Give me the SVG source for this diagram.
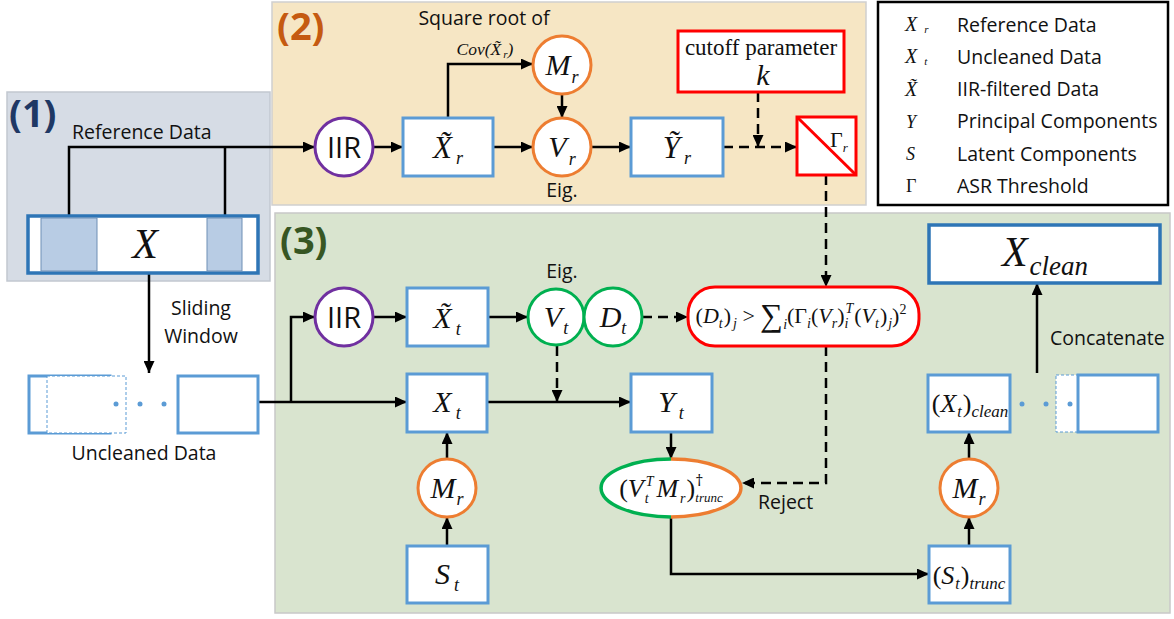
<svg xmlns="http://www.w3.org/2000/svg" width="1174" height="619" viewBox="0 0 1174 619">
<defs>
<marker id="ah" markerUnits="userSpaceOnUse" markerWidth="13" markerHeight="11" refX="12" refY="5.5" orient="auto">
<path d="M0,0 L12,5.5 L0,11 z" fill="#000"/>
</marker>
<style>
.sans{font-family:"Open Sans","Liberation Sans",sans-serif;font-size:19.5px;fill:#111}
.iir{font-family:"Open Sans","Liberation Sans",sans-serif;font-size:29px;fill:#111}
.m{font-family:"Liberation Serif","Times New Roman",serif;font-style:italic;fill:#111}
.up{font-style:normal}
.bx{fill:#fff;stroke:#5b9bd5;stroke-width:3}
.bxd{fill:#fff;stroke:#2e75b6;stroke-width:3.5}
.cO{fill:#fff;stroke:#ed7d31;stroke-width:3}
.cP{fill:#fff;stroke:#7030a0;stroke-width:3}
.cG{fill:#fff;stroke:#00b050;stroke-width:3}
.red{fill:#fff;stroke:#ff0000;stroke-width:3}
.ln{fill:none;stroke:#000;stroke-width:2.5}
.dl{fill:none;stroke:#000;stroke-width:2.5;stroke-dasharray:10 6}
.a{marker-end:url(#ah)}
.win{fill:#fff;stroke:#5b9bd5;stroke-width:3}
.wind{fill:#fff;stroke:#5b9bd5;stroke-width:1;stroke-dasharray:3 2}
.dot{fill:#5b9bd5}
.s{font-size:14px}
</style>
</defs>
<rect width="1174" height="619" fill="#fff"/>

<g id="regions">
<rect x="7" y="92" width="263" height="189" fill="#d6dce5" stroke="#c2c8d0" stroke-width="1.5"/>
<rect x="272" y="2" width="594" height="203" fill="#f6e6c4" stroke="#cfcfcf" stroke-width="1.5"/>
<rect x="275" y="213" width="895" height="400" fill="#d9e4cf" stroke="#c8c8c8" stroke-width="1.5"/>
<text x="9" y="127" font-family="Open Sans, Liberation Sans, sans-serif" font-weight="bold" font-size="38" fill="#1f3864">(1)</text>
<text x="277" y="40" font-family="Open Sans, Liberation Sans, sans-serif" font-weight="bold" font-size="38" fill="#c55a11">(2)</text>
<text x="280" y="254" font-family="Open Sans, Liberation Sans, sans-serif" font-weight="bold" font-size="38" fill="#375623">(3)</text>
</g>

<g id="legend">
<rect x="878" y="2" width="290" height="203" fill="#fff" stroke="#000" stroke-width="2.5"/>
<text class="m" x="905" y="31" font-size="20">X<tspan dx="7" dy="2" font-size="11">r</tspan></text>
<text class="m" x="905" y="63" font-size="20">X<tspan dx="7" dy="2" font-size="11">t</tspan></text>
<text class="m" x="905" y="96" font-size="20">X̃</text>
<text class="m" x="906" y="128" font-size="18">Y</text>
<text class="m" x="906" y="160" font-size="18">S</text>
<text class="m up" x="906" y="192" font-size="18">Γ</text>
<text class="sans" x="957" y="32">Reference Data</text>
<text class="sans" x="957" y="64">Uncleaned Data</text>
<text class="sans" x="957" y="96">IIR-filtered Data</text>
<text class="sans" x="957" y="128">Principal Components</text>
<text class="sans" x="957" y="161">Latent Components</text>
<text class="sans" x="957" y="193">ASR Threshold</text>
</g>

<g id="connectors">
<path class="ln a" d="M69,217 V147 H315"/>
<path class="ln" d="M225,217 V147"/>
<path class="ln a" d="M373,147 H403"/>
<path class="ln a" d="M493,147 H533"/>
<path class="ln a" d="M448,118 V64 H533"/>
<path class="ln a" d="M562,94 V118"/>
<path class="ln a" d="M591,147 H631"/>
<path class="dl a" d="M723,147 H797"/>
<path class="dl a" d="M758,92 V147"/>
<path class="dl a" d="M826,175 V287"/>
<path class="dl a" d="M826,346 V483 H742"/>
<path class="ln a" d="M149,273 V373"/>
<path class="ln a" d="M258,402 H407"/>
<path class="ln a" d="M291,402 V317 H315"/>
<path class="ln a" d="M373,317 H407"/>
<path class="ln a" d="M488,317 H528"/>
<path class="dl a" d="M642,317 H688"/>
<path class="dl a" d="M557,346 V402"/>
<path class="ln a" d="M487,402 H631"/>
<path class="ln a" d="M447,459 V432"/>
<path class="ln a" d="M447,546 V517"/>
<path class="ln a" d="M671,432 V459"/>
<path class="ln a" d="M671,517 V574 H929"/>
<path class="ln a" d="M969,546 V517"/>
<path class="ln a" d="M969,459 V432"/>
<path class="ln a" d="M1037,373 V283"/>
</g>

<g id="n-X">
<rect class="bxd" x="28" y="216" width="230" height="57"/>
<rect x="41" y="218" width="56" height="53" fill="#b8cce4" stroke="#6e8fb5" stroke-width="1"/>
<rect x="207" y="218" width="35" height="53" fill="#b8cce4" stroke="#6e8fb5" stroke-width="1"/>
<text class="m" x="145" y="258" font-size="42" text-anchor="middle">X</text>
<text class="sans" x="72" y="139">Reference Data</text>
</g>

<g id="n-window">
<text class="sans" x="201" y="315" text-anchor="middle">Sliding</text>
<text class="sans" x="201" y="343" text-anchor="middle">Window</text>
<rect class="win" x="29" y="376" width="81" height="57"/>
<rect class="wind" x="47" y="376" width="79" height="57" fill="none"/>
<rect class="win" x="178" y="376" width="80" height="57"/>
<circle class="dot" cx="116" cy="404" r="2.5"/>
<circle class="dot" cx="140" cy="404" r="2.5"/>
<circle class="dot" cx="164" cy="404" r="2.5"/>
<text class="sans" x="144" y="460" text-anchor="middle">Uncleaned Data</text>
</g>

<g id="n-IIR-r">
<circle class="cP" cx="344" cy="147" r="29"/>
<text class="iir" x="344" y="157.5" text-anchor="middle">IIR</text>
</g>
<g id="n-Xr">
<rect class="bx" x="403" y="118" width="90" height="58"/>
<text class="m" x="448" y="158" font-size="31" text-anchor="middle">X̃<tspan dx="4" dy="6" font-size="18">r</tspan></text>
<text class="sans" x="484" y="25" text-anchor="middle">Square root of</text>
<text class="m" x="485" y="55" font-size="17.5" text-anchor="middle">Cov(X̃<tspan dx="2" dy="3" font-size="11">r</tspan><tspan dy="-3">)</tspan></text>
</g>
<g id="n-Mr-top">
<circle class="cO" cx="562" cy="65" r="29"/>
<text class="m" x="562" y="75" font-size="30" text-anchor="middle">M<tspan dx="1" dy="8" font-size="18">r</tspan></text>
</g>
<g id="n-Vr">
<circle class="cO" cx="562" cy="147" r="29"/>
<text class="m" x="562" y="157" font-size="30" text-anchor="middle">V<tspan dx="2" dy="8" font-size="18">r</tspan></text>
<text class="sans" x="562" y="197" text-anchor="middle">Eig.</text>
</g>
<g id="n-Yr">
<rect class="bx" x="631" y="118" width="92" height="58"/>
<text class="m" x="677" y="158" font-size="31" text-anchor="middle">Ỹ<tspan dx="4" dy="6" font-size="18">r</tspan></text>
</g>
<g id="n-k">
<rect class="red" x="678" y="31" width="166" height="61"/>
<text x="761" y="55" font-family="Liberation Serif, serif" font-size="23" text-anchor="middle" fill="#111">cutoff parameter</text>
<text class="m" x="763" y="85" font-size="30" text-anchor="middle">k</text>
</g>
<g id="n-Gamma">
<rect class="red" x="797" y="117" width="59" height="58"/>
<line x1="797" y1="117" x2="856" y2="175" stroke="#ff0000" stroke-width="3"/>
<text class="m up" x="830" y="147" font-size="22">Γ<tspan class="m" dy="5" font-size="13">r</tspan></text>
</g>

<g id="n-IIR-t">
<circle class="cP" cx="344" cy="317" r="29"/>
<text class="iir" x="344" y="327.5" text-anchor="middle">IIR</text>
</g>
<g id="n-Xt-f">
<rect class="bx" x="407" y="288" width="81" height="58"/>
<text class="m" x="447" y="328" font-size="30" text-anchor="middle">X̃<tspan dx="4" dy="7" font-size="18">t</tspan></text>
</g>
<g id="n-Vt">
<circle class="cG" cx="556" cy="317" r="28"/>
<text class="m" x="556" y="327" font-size="30" text-anchor="middle">V<tspan dx="1" dy="7" font-size="18">t</tspan></text>
<text class="sans" x="562" y="278" text-anchor="middle">Eig.</text>
</g>
<g id="n-Dt">
<circle class="cG" cx="613" cy="317" r="29"/>
<text class="m" x="613" y="327" font-size="30" text-anchor="middle">D<tspan dy="7" font-size="18">t</tspan></text>
</g>
<g id="n-formula">
<rect x="688" y="287" width="231" height="59" rx="27" fill="#fff" stroke="#ff0000" stroke-width="3"/>
<text class="m" x="801" y="323" font-size="22" text-anchor="middle"><tspan class="up">(</tspan>D<tspan class="s" dy="5">t</tspan><tspan class="up" dx="1" dy="-5">)</tspan><tspan class="s" dx="2" dy="5">j</tspan><tspan class="up" dy="-5"> &gt; </tspan><tspan class="up" font-size="32" dy="3">∑</tspan><tspan class="s" dy="3">i</tspan><tspan class="up" dy="-6">(Γ</tspan><tspan class="s" dy="5">i</tspan><tspan class="up" dy="-5">(</tspan>V<tspan class="s" dy="5">r</tspan><tspan class="up" dy="-5">)</tspan><tspan class="s" dy="5">i</tspan><tspan class="s" dx="-3" dy="-15">T</tspan><tspan class="up" dx="1" dy="10">(</tspan>V<tspan class="s" dy="5">t</tspan><tspan class="up" dx="1" dy="-5">)</tspan><tspan class="s" dx="1" dy="5">j</tspan><tspan class="up" dy="-5">)</tspan><tspan class="s up" dy="-9">2</tspan></text>
</g>

<g id="n-Xt">
<rect class="bx" x="407" y="374" width="80" height="58"/>
<text class="m" x="447" y="412" font-size="30" text-anchor="middle">X<tspan dx="4" dy="7" font-size="18">t</tspan></text>
</g>
<g id="n-Yt">
<rect class="bx" x="631" y="374" width="81" height="58"/>
<text class="m" x="671" y="412" font-size="30" text-anchor="middle">Y<tspan dx="4" dy="7" font-size="18">t</tspan></text>
</g>
<g id="n-Mr-left">
<circle class="cO" cx="447" cy="488" r="29"/>
<text class="m" x="447" y="498" font-size="30" text-anchor="middle">M<tspan dx="1" dy="7" font-size="18">r</tspan></text>
</g>
<g id="n-St">
<rect class="bx" x="407" y="546" width="81" height="57"/>
<text class="m" x="447" y="584" font-size="30" text-anchor="middle">S<tspan dx="4" dy="7" font-size="18">t</tspan></text>
</g>
<g id="n-pinv">
<ellipse cx="671" cy="488" rx="70" ry="29" fill="#fff"/>
<path d="M671,459 A70,29 0 0,0 671,517" fill="none" stroke="#00b050" stroke-width="3.5"/>
<path d="M671,459 A70,29 0 0,1 671,517" fill="none" stroke="#ed7d31" stroke-width="3.5"/>
<text class="m" x="671" y="497" font-size="26" text-anchor="middle"><tspan class="up">(</tspan>V<tspan dx="1" dy="6" font-size="14">t</tspan><tspan dx="-3" dy="-17" font-size="14">T</tspan><tspan dx="3" dy="11">M</tspan><tspan dx="2" dy="6" font-size="14">r</tspan><tspan class="up" dx="1" dy="-6">)</tspan><tspan class="up" font-family="Open Sans, sans-serif" font-size="16" dy="-11">†</tspan><tspan dx="-8" dy="16" font-size="13">trunc</tspan></text>
<text class="sans" x="758" y="509">Reject</text>
</g>
<g id="n-Strunc">
<rect class="bx" x="929" y="546" width="81" height="57"/>
<text class="m" x="969" y="584" font-size="26" text-anchor="middle"><tspan class="up">(</tspan>S<tspan dx="1" dy="5" font-size="16">t</tspan><tspan class="up" dx="1" dy="-5">)</tspan><tspan dy="5" font-size="17">trunc</tspan></text>
</g>
<g id="n-Mr-right">
<circle class="cO" cx="969" cy="488" r="29"/>
<text class="m" x="969" y="498" font-size="30" text-anchor="middle">M<tspan dx="1" dy="7" font-size="18">r</tspan></text>
</g>
<g id="n-Xtclean">
<rect class="bx" x="928" y="375" width="82" height="57"/>
<text class="m" x="970" y="412" font-size="26" text-anchor="middle"><tspan class="up">(</tspan>X<tspan dx="1" dy="5" font-size="16">t</tspan><tspan class="up" dx="1" dy="-5">)</tspan><tspan dy="5" font-size="17">clean</tspan></text>
<circle class="dot" cx="1022" cy="404" r="2.5"/>
<circle class="dot" cx="1046" cy="404" r="2.5"/>
<rect class="wind" x="1056" y="375" width="80" height="57"/>
<circle class="dot" cx="1070" cy="404" r="2.5"/>
<rect class="win" x="1078" y="375" width="80" height="57"/>
<text class="sans" x="1050" y="345">Concatenate</text>
</g>
<g id="n-Xclean">
<rect class="bxd" x="929" y="225" width="231" height="58"/>
<text class="m" x="1045" y="266" font-size="42" text-anchor="middle">X<tspan dx="2" dy="9" font-size="27">clean</tspan></text>
</g>
</svg>
